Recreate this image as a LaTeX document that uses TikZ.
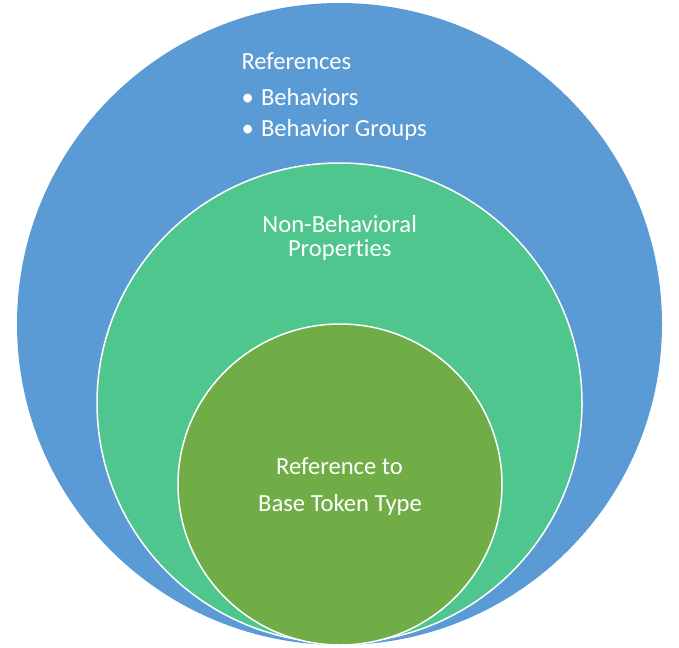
\documentclass[tikz,border=0pt]{standalone}
\usepackage{fontspec}
\setmainfont{Carlito}[Ligatures={NoCommon}]
\usetikzlibrary{shapes.geometric}
\definecolor{ringblue}{HTML}{5B9BD5}
\definecolor{ringteal}{HTML}{4FC68D}
\definecolor{coregreen}{HTML}{70AD47}
\tikzset{
  ring/.style={ellipse, inner sep=0pt, outer sep=0pt, draw=white, line width=1.5pt},
  label/.style={inner sep=0pt, outer sep=0pt, text=white, font=\fontsize{24.6}{28}\selectfont},
}
\begin{document}
\begin{tikzpicture}[x=1pt, y=-1pt]
  \useasboundingbox (0,0) rectangle (679,647);
  % nested rings, all touching near the bottom
  \node[ring, fill=ringblue, draw=none, minimum width=645pt, minimum height=642pt] (outer) at (339.5,324) {};
  \node[ring, fill=ringteal, minimum width=485pt, minimum height=480pt] (middle) at (339.5,403) {};
  \node[ring, fill=coregreen, minimum width=324pt, minimum height=321pt] (core) at (340,484.5) {};
  % outer ring text
  \node[label, anchor=base west] (refs) at (241.5,69.3) {References};
  \node[label, anchor=base west] (b1) at (241.5,105.7) {•};
  \node[label, anchor=base west] (beh) at (261,105.7) {Behaviors};
  \node[label, anchor=base west] (b2) at (241.5,136.7) {•};
  \node[label, anchor=base west] (grp) at (261,136.7) {Behavior Groups};
  % middle ring text
  \node[label, anchor=base] (nb) at (339.7,232) {Non-Behavioral};
  \node[label, anchor=base] (props) at (339.7,256.7) {Properties};
  % core text
  \node[label, anchor=base] (refto) at (339.5,474.3) {Reference to};
  \node[label, anchor=base] (base) at (340,511.7) {Base Token Type};
\end{tikzpicture}
\end{document}
